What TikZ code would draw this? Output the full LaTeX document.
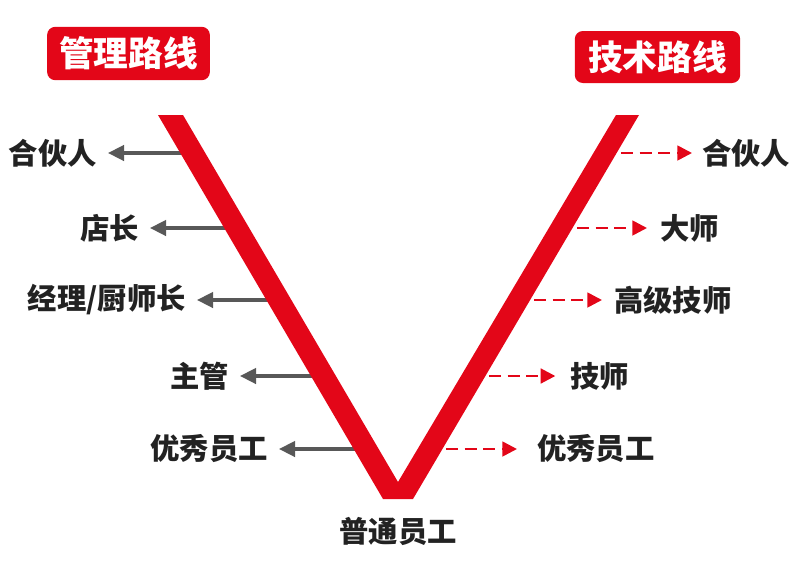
\documentclass[tikz,border=0pt]{standalone}
\usepackage{fontspec}
\newfontfamily\cjk{Noto Sans CJK SC}
\usetikzlibrary{arrows.meta}
\definecolor{vred}{RGB}{227,6,24}
\definecolor{agray}{RGB}{88,88,88}
\definecolor{txt}{RGB}{34,34,34}
\begin{document}
\begin{tikzpicture}[x=0.75pt,y=-0.75pt,
  lbl/.style={font=\cjk\bfseries\fontsize{22}{26}\selectfont, text=txt, inner sep=0pt},
  hdr/.style={fill=vred, rounded corners=6pt, text=white, inner sep=0pt,
    font=\cjk\bfseries\fontsize{26}{30}\selectfont},
  mgmt/.style={draw=agray, line width=2.4pt, -{Triangle[length=12pt,width=11.5pt]}},
  tech/.style={draw=vred, line width=2pt, dash pattern=on 9pt off 5pt, -{Triangle[length=11pt,width=11pt]}}]
\useasboundingbox (0,0) rectangle (800,579);

% headers
\node[hdr, minimum width=122pt, minimum height=40pt] (hm) at (128.5,53.5) {管理路线};
\node[hdr, minimum width=124pt, minimum height=39pt] (ht) at (657.5,57) {技术路线};

% left (management) labels
\node[lbl, anchor=east] (l1) at (97,153) {合伙人};
\node[lbl, anchor=east] (l2) at (139,228) {店长};
\node[lbl, anchor=east] (l3) at (186,300) {经理/厨师长};
\node[lbl, anchor=east] (l4) at (229,376) {主管};
\node[lbl, anchor=east] (l5) at (268,449) {优秀员工};

% right (technical) labels
\node[lbl, anchor=west] (r1) at (702,153) {合伙人};
\node[lbl, anchor=west] (r2) at (660,228) {大师};
\node[lbl, anchor=west] (r3) at (614,300) {高级技师};
\node[lbl, anchor=west] (r4) at (570,376) {技师};
\node[lbl, anchor=west] (r5) at (537,449) {优秀员工};

% bottom label
\node[lbl] (b) at (398,531) {普通员工};

% connector start points on the V
\coordinate (a1) at (186,153);
\coordinate (a2) at (230,228);
\coordinate (a3) at (272,300);
\coordinate (a4) at (317,376);
\coordinate (a5) at (360,449);
\coordinate (c1) at (621,153);
\coordinate (c2) at (577,228);
\coordinate (c3) at (534,300);
\coordinate (c4) at (489,376);
\coordinate (c5) at (446,449);

\draw[mgmt, shorten >=8.25pt] (a1) -- (l1.east);
\draw[mgmt, shorten >=8.25pt] (a2) -- (l2.east);
\draw[mgmt, shorten >=8.25pt] (a3) -- (l3.east);
\draw[mgmt, shorten >=8.25pt] (a4) -- (l4.east);
\draw[mgmt, shorten >=8.25pt] (a5) -- (l5.east);

\draw[tech, shorten >=7.5pt] (c1) -- (r1.west);
\draw[tech, shorten >=9.75pt] (c2) -- (r2.west);
\draw[tech, shorten >=9pt] (c3) -- (r3.west);
\draw[tech, shorten >=11pt] (c4) -- (r4.west);
\draw[tech, shorten >=15pt] (c5) -- (r5.west);

% the V
\fill[vred] (158,115) -- (183,115) -- (398,482) -- (616,115) -- (639,115)
  -- (413,499) -- (383,499) -- cycle;
\end{tikzpicture}
\end{document}
